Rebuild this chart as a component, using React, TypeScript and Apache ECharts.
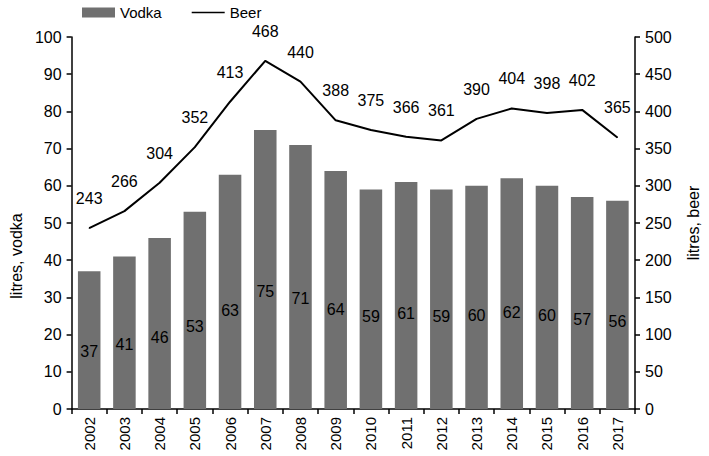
import React, { useEffect, useRef } from "react";
import * as echarts from "echarts";

const years = ["2002","2003","2004","2005","2006","2007","2008","2009","2010","2011","2012","2013","2014","2015","2016","2017"];
const vodka = [37, 41, 46, 53, 63, 75, 71, 64, 59, 61, 59, 60, 62, 60, 57, 56];
const beer = [243, 266, 304, 352, 413, 468, 440, 388, 375, 366, 361, 390, 404, 398, 402, 365];

const FONT = "Liberation Sans";

export default function App() {
  const ref = useRef<HTMLDivElement>(null);
  useEffect(() => {
    if (!ref.current) return;
    const chart = echarts.init(ref.current, null, { renderer: "svg" });
    chart.setOption({
      animation: false,
      textStyle: { fontFamily: FONT, color: "#000" },
      legend: {
        left: 77,
        top: 0,
        itemWidth: 33,
        itemHeight: 10,
        itemGap: 30,
        textStyle: { fontFamily: FONT, fontSize: 15, color: "#000" },
        data: [
          { name: "Vodka", icon: "rect" },
          { name: "Beer", icon: "path://M0,0 L40,0 L40,2 L0,2 Z" },
        ],
      },
      grid: { left: 58, right: 62, top: 37, bottom: 47, containLabel: false },
      xAxis: {
        type: "category",
        data: years,
        boundaryGap: true,
        axisLine: { lineStyle: { color: "#000", width: 1.5 } },
        axisTick: { show: true, length: 5, lineStyle: { color: "#000", width: 1.5 } },
        axisLabel: { rotate: 90, color: "#000", fontSize: 15, fontFamily: FONT, margin: 8 },
      },
      yAxis: [
        {
          type: "value",
          min: 0,
          max: 100,
          interval: 10,
          name: "litres, vodka",
          nameLocation: "middle",
          nameGap: 46,
          nameTextStyle: { fontSize: 16, color: "#000", fontFamily: FONT, padding: [0, 66, 0, 0] },
          axisLine: { show: true, lineStyle: { color: "#000", width: 1.5 } },
          axisTick: { show: true, length: 5, lineStyle: { color: "#000", width: 1.5 } },
          axisLabel: { color: "#000", fontSize: 16, fontFamily: FONT, margin: 10 },
          splitLine: { show: false },
        },
        {
          type: "value",
          min: 0,
          max: 500,
          interval: 50,
          name: "litres, beer",
          nameLocation: "middle",
          nameGap: 50,
          nameRotate: 90,
          nameTextStyle: { fontSize: 16, color: "#000", fontFamily: FONT },
          position: "right",
          axisLine: { show: true, lineStyle: { color: "#000", width: 1.5 } },
          axisTick: { show: true, length: 5, lineStyle: { color: "#000", width: 1.5 } },
          axisLabel: { color: "#000", fontSize: 16, fontFamily: FONT, margin: 10 },
          splitLine: { show: false },
        },
      ],
      series: [
        {
          name: "Vodka",
          type: "bar",
          yAxisIndex: 0,
          data: vodka,
          barWidth: "64%",
          itemStyle: { color: "#707070" },
          label: {
            show: true,
            position: ["50%", "58%"],
            align: "center",
            verticalAlign: "middle",
            color: "#000",
            fontSize: 16,
            fontFamily: FONT,
          },
        },
        {
          name: "Beer",
          type: "line",
          yAxisIndex: 1,
          data: beer,
          symbol: "circle",
          symbolSize: 1,
          showSymbol: true,
          lineStyle: { color: "#000", width: 2 },
          itemStyle: { color: "#000" },
          label: {
            show: true,
            position: "top",
            distance: 21,
            color: "#000",
            fontSize: 16,
            fontFamily: FONT,
          },
        },
      ],
    });
    return () => chart.dispose();
  }, []);
  return <div ref={ref} style={{ width: 709, height: 456, position: "absolute", left: 0, top: 0 }} />;
}
